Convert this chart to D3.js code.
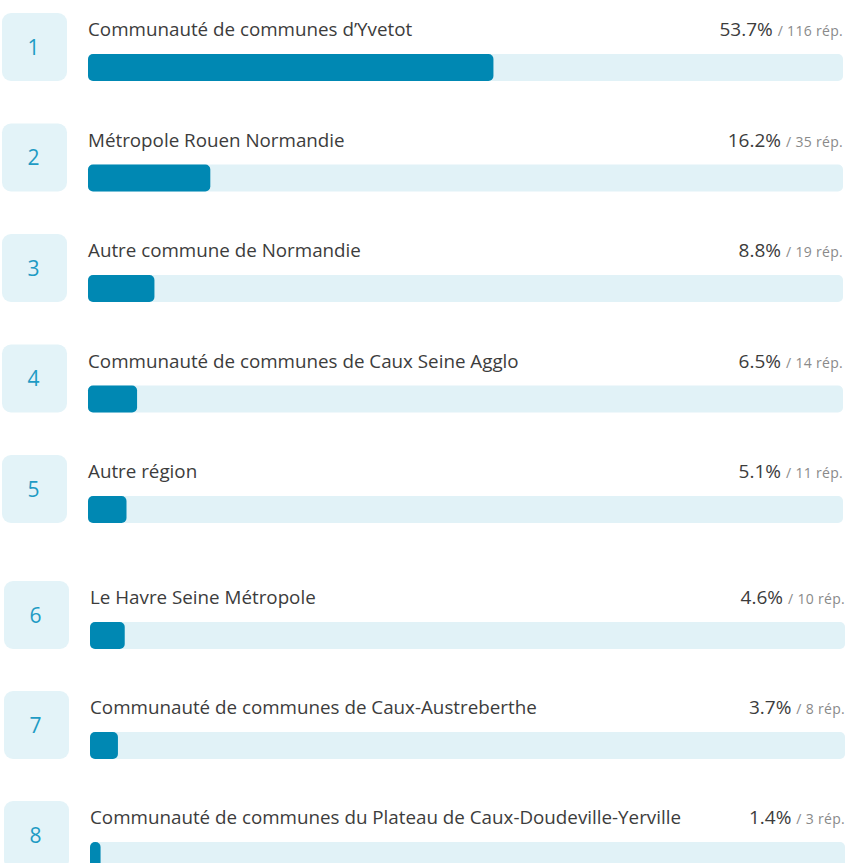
<!DOCTYPE html>
<html><head><meta charset="utf-8">
<script src="https://cdn.jsdelivr.net/npm/d3@7"></script>
<style>
html,body{margin:0;padding:0;background:#fff;}
svg{display:block;font-family:"Open Sans",Lato,sans-serif;}
</style></head>
<body><svg id="c" width="847" height="863"></svg>
<script>
const ranks = [1,2,3,4,5,6,7,8];
const labels = [
  "Communauté de communes d’Yvetot",
  "Métropole Rouen Normandie",
  "Autre commune de Normandie",
  "Communauté de communes de Caux Seine Agglo",
  "Autre région",
  "Le Havre Seine Métropole",
  "Communauté de communes de Caux-Austreberthe",
  "Communauté de communes du Plateau de Caux-Doudeville-Yerville"
];
const percents = [53.7,16.2,8.8,6.5,5.1,4.6,3.7,1.4];
const counts = [116,35,19,14,11,10,8,3];

const svg = d3.select("#c");
const fmt = d3.format(".1f");

const rows = ranks.map((r,i)=>({rank:r,label:labels[i],pct:percents[i],n:counts[i],i}));
function rowTop(i){ return i<5 ? 13+110.5*i : 581+110*(i-5); }
function rowDx(i){ return i<5 ? 0 : 2; }

const g = svg.selectAll("g.row").data(rows).join("g")
  .attr("class","row")
  .attr("transform",d=>`translate(${rowDx(d.i)},${rowTop(d.i)})`);

// number box
g.append("rect").attr("x",2).attr("y",0).attr("width",65).attr("height",68)
  .attr("rx",9).attr("fill","#e3f3f8");
g.append("text").attr("x",33.5).attr("y",41.5).attr("text-anchor","middle")
  .attr("font-size",21).attr("fill","#1e9bc4").text(d=>d.rank);

const trackX0 = 88, trackX1 = 843;
const x = d3.scaleLinear().domain([0,100]).range([0, trackX1-trackX0]);

g.append("rect").attr("x",trackX0).attr("y",41).attr("width",x(100)).attr("height",27)
  .attr("rx",5).attr("fill","#e1f2f7");
g.append("rect").attr("x",trackX0).attr("y",41).attr("width",d=>Math.max(x(d.pct),8)).attr("height",27)
  .attr("rx",5).attr("fill","#0088b3");

g.append("text").attr("x",trackX0).attr("y",23).attr("font-size",18.8)
  .attr("fill","#3c3c3c").text(d=>d.label);

const t = g.append("text").attr("x",trackX1).attr("y",23).attr("text-anchor","end");
t.append("tspan").attr("font-size",19).attr("fill","#3c3c3c").text(d=>fmt(d.pct)+"%");
t.append("tspan").attr("font-size",14).attr("letter-spacing",0.3).attr("fill","#8a8a8a").attr("dx",5).text(d=>"/ "+d.n+" rép.");
</script>
</body></html>
